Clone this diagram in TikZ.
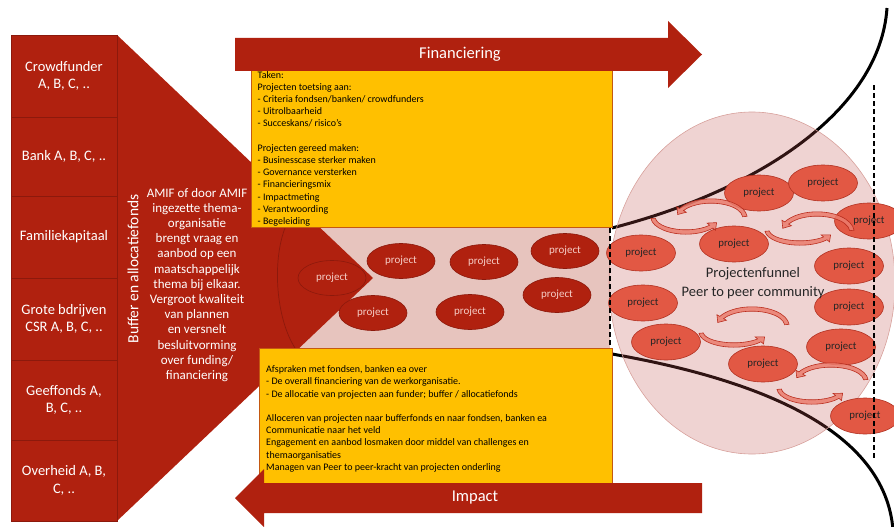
\documentclass[tikz,border=0pt]{standalone}
\usepackage{fontspec}
\setmainfont{Carlito}
\usetikzlibrary{shapes.geometric,calc}
\definecolor{dred}{RGB}{176,33,15}
\definecolor{dredline}{RGB}{140,25,12}
\definecolor{ybox}{RGB}{255,192,0}
\definecolor{yline}{RGB}{196,89,17}
\definecolor{pipe}{RGB}{231,196,190}
\definecolor{circfill}{RGB}{192,80,77}
\definecolor{circline}{RGB}{215,160,155}
\definecolor{projR}{RGB}{226,88,68}
\definecolor{projRline}{RGB}{176,48,32}
\definecolor{projtxt}{RGB}{245,205,198}
\definecolor{arcfill}{RGB}{235,125,110}
\definecolor{arcline}{RGB}{185,45,30}
\tikzset{
 fundbox/.style={rectangle, fill=dred, draw=dredline, line width=0.8pt, minimum width=106pt, text=white, align=center, font=\fontsize{14.5}{17.7}\selectfont, inner sep=0pt},
 chevtext/.style={text=white, align=center, font=\fontsize{13}{15.2}\selectfont, inner sep=0pt},
 pipeproj/.style={ellipse, fill=dred, draw=dredline, line width=0.6pt, minimum width=68pt, minimum height=35pt, inner sep=0pt, text=projtxt, font=\fontsize{11}{13}\selectfont},
 funproj/.style={ellipse, fill=projR, draw=projRline, line width=0.6pt, minimum width=69pt, minimum height=36pt, inner sep=0pt, text=black!85, font=\fontsize{10.8}{13}\selectfont},
 taskbox/.style={rectangle, fill=ybox, draw=yline, line width=0.6pt, inner sep=0pt},
 tasktext/.style={anchor=north west, align=left, inner sep=0pt, font=\fontsize{10}{12.2}\selectfont, text=black},
 bigarrow/.style={fill=dred},
 arrowlabel/.style={text=white, font=\fontsize{16.5}{20}\selectfont, inner sep=0pt},
 funnelline/.style={draw=black, line width=3pt},
 dashline/.style={draw=black, line width=2pt, dash pattern=on 5pt off 3pt},
 arcarrow/.style={fill=arcfill, draw=arcline, line width=0.6pt, fill opacity=0.85},
}
\newcommand{\ArcArrow}[6]{%
 \pgfmathsetmacro\aAx{#1+(#3+2.2)*cos(#5)}\pgfmathsetmacro\aAy{#2+(#4+2.2)*sin(#5)}%
 \pgfmathsetmacro\aBx{#1+(#3+5.5)*cos(#6)}\pgfmathsetmacro\aBy{#2+(#4+5.5)*sin(#6)}%
 \pgfmathsetmacro\aCx{#1+#3*cos(#6-18)}\pgfmathsetmacro\aCy{#2+#4*sin(#6-18)}%
 \pgfmathsetmacro\aDx{#1+(#3-5.5)*cos(#6)}\pgfmathsetmacro\aDy{#2+(#4-5.5)*sin(#6)}%
 \pgfmathsetmacro\aEx{#1+(#3-2.2)*cos(#6)}\pgfmathsetmacro\aEy{#2+(#4-2.2)*sin(#6)}%
 \pgfmathsetmacro\rxo{#3+2.2}\pgfmathsetmacro\ryo{#4+2.2}%
 \pgfmathsetmacro\rxi{#3-2.2}\pgfmathsetmacro\ryi{#4-2.2}%
 \path[arcarrow] (\aAx,\aAy) arc[start angle=#5, end angle=#6, x radius=\rxo, y radius=\ryo] -- (\aBx,\aBy) -- (\aCx,\aCy) -- (\aDx,\aDy) -- (\aEx,\aEy) arc[start angle=#6, end angle=#5, x radius=\rxi, y radius=\ryi] -- cycle;%
}
\begin{document}
\begin{tikzpicture}[x=1pt,y=-1pt]
\useasboundingbox (0,0) rectangle (894,527);
% pipe band
\fill[pipe] (285,228) rectangle (610,348);
% chevron
\fill[dred] (117,35) -- (373,278) -- (117,521) -- cycle;
\draw[dredline, line width=0.7pt] (285,228) .. controls (272,262) and (276,318) .. (295,348);
% funder boxes
\node[fundbox, minimum height=82pt] (crowd) at (64,76) {Crowdfunder\\A, B, C, ..};
\node[fundbox, minimum height=79pt] (bank) at (64,156.5) {Bank A, B, C, ..};
\node[fundbox, minimum height=82pt] (fam) at (64,237) {Familiekapitaal};
\node[fundbox, minimum height=82pt] (grote) at (64,319) {Grote bdrijven\\CSR A, B, C, ..};
\node[fundbox, minimum height=80pt] (geef) at (64,400) {Geeffonds A,\\B, C, ..};
\node[fundbox, minimum height=81pt] (over) at (64,480.5) {Overheid A, B,\\C, ..};
% chevron texts
\node[rotate=90, text=white, font=\fontsize{15.5}{18}\selectfont, inner sep=0pt] (buffer) at (133,269) {Buffer en allocatiefonds};
\node[chevtext] (amif) at (197,285) {AMIF of door AMIF\\ingezette thema-\\organisatie\\brengt vraag en\\aanbod op een\\maatschappelijk\\thema bij elkaar.\\Vergroot kwaliteit\\van plannen\\en versnelt\\besluitvorming\\over funding/\\financiering};
% pipe projects
\node[pipeproj] (p1) at (332,278) {project};
\node[pipeproj] (p2) at (401,261) {project};
\node[pipeproj] (p3) at (484,262) {project};
\node[pipeproj] (p4) at (565,251) {project};
\node[pipeproj] (p5) at (373,313) {project};
\node[pipeproj] (p6) at (470,312) {project};
\node[pipeproj] (p7) at (557,295) {project};
% funnel curves
\draw[funnelline] (612,228) .. controls (760,190) and (880,110) .. (887,8);
\draw[funnelline] (612,354) .. controls (760,380) and (885,430) .. (893,530);
% big circle
\path[fill=circfill, fill opacity=0.25, draw=circline, line width=0.6pt] (752,283) ellipse [x radius=143, y radius=171];
% funnel projects
\node[funproj] (r1) at (759,193) {project};
\node[funproj] (r2) at (823,183) {project};
\node[funproj] (r3) at (869,221) {project};
\node[funproj] (r4) at (734,244) {project};
\node[funproj] (r5) at (641,253) {project};
\node[funproj] (r6) at (849,266) {project};
\node[funproj] (r7) at (643,303) {project};
\node[funproj] (r8) at (666,342) {project};
\node[funproj] (r9) at (763,364) {project};
\node[funproj] (r10) at (849,307) {project};
\node[funproj] (r11) at (841,347) {project};
\node[funproj] (r12) at (865,416) {project};
% circular arrows
\ArcArrow{711}{218}{34}{17}{-5}{-150}
\ArcArrow{686}{217}{33}{15}{175}{40}
\ArcArrow{817}{232}{35}{18}{-5}{-150}
\ArcArrow{800}{230}{33}{13}{175}{40}
\ArcArrow{752}{326}{35}{17}{-5}{-150}
\ArcArrow{734}{332}{33}{13}{175}{40}
\ArcArrow{831}{381}{35}{16}{-5}{-150}
\ArcArrow{812}{388}{33}{14}{175}{40}
\node[align=center, font=\fontsize{14.5}{18.5}\selectfont, text=black!85, inner sep=0pt] (funnel) at (753,283) {Projectenfunnel\\Peer to peer community};
% dashed lines
\draw[dashline, line width=1.6pt] (610,228) -- (610,350);
\draw[dashline] (874,85) -- (874,458);
% task boxes
\node[taskbox, anchor=north west, minimum width=361pt, minimum height=157pt] (takenbox) at (251,70) {};
\node[tasktext] (taken) at (257.5,71) {Taken:\\Projecten toetsing aan:\\- Criteria fondsen/banken/ crowdfunders\\- Uitrolbaarheid\\- Succeskans/ risico’s\\[12.2pt]Projecten gereed maken:\\- Businesscase sterker maken\\- Governance versterken\\- Financieringsmix\\- Impactmeting\\- Verantwoording\\- Begeleiding};
\node[taskbox, anchor=north west, minimum width=353pt, minimum height=135pt] (afsbox) at (259,348) {};
\node[tasktext] (afs) at (266,365.5) {Afspraken met fondsen, banken ea over\\- De overall financiering van de werkorganisatie.\\- De allocatie van projecten aan funder; buffer / allocatiefonds\\[12.2pt]Alloceren van projecten naar bufferfonds en naar fondsen, banken ea\\Communicatie naar het veld\\Engagement en aanbod losmaken door middel van challenges en\\themaorganisaties\\Managen van Peer to peer-kracht van projecten onderling};
% big arrows
\fill[bigarrow] (235,38) -- (668,38) -- (668,21) -- (702,54.5) -- (668,88) -- (668,71) -- (235,71) -- cycle;
\node[arrowlabel] (fin) at (460,54.5) {Financiering};
\fill[bigarrow] (702,483) -- (264,483) -- (264,469) -- (235,498) -- (264,527) -- (264,513) -- (702,513) -- cycle;
\node[arrowlabel] (imp) at (475,498) {Impact};
\end{tikzpicture}
\end{document}
